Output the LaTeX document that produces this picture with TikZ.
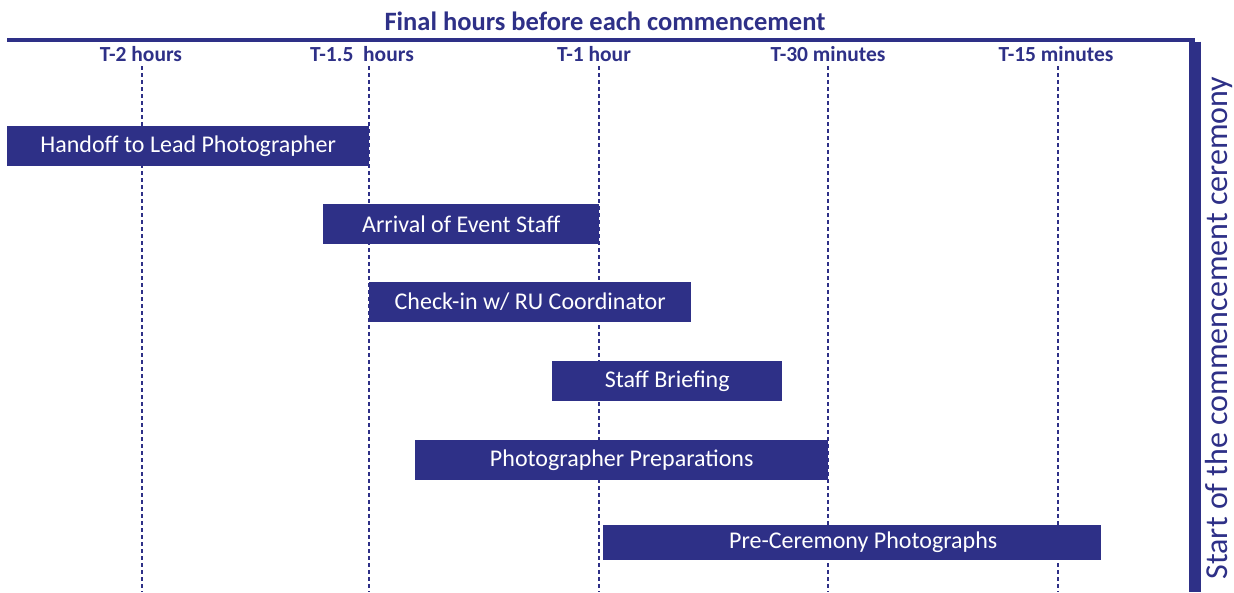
\documentclass[tikz,border=0pt]{standalone}
\usepackage{fontspec}
\setmainfont{Carlito}
\usepackage{tikz}
\usetikzlibrary{positioning}
\definecolor{rublue}{RGB}{46,48,135}

\begin{document}
\begin{tikzpicture}[x=1pt,y=-1pt,
  mark label/.style={text=rublue,font=\fontsize{21.5}{24}\selectfont\bfseries,inner sep=1pt},
  tick/.style={rublue,line width=1.3pt,dash pattern=on 4pt off 3pt},
  task/.style={fill=rublue,text=white,minimum height=40pt,inner sep=0pt,anchor=west,
    font=\fontsize{24}{27}\selectfont}]
  \useasboundingbox (0,0) rectangle (1234,592);
  \node[text=rublue,font=\fontsize{26.5}{29}\selectfont\bfseries] (title) at (605,21) {Final hours before each commencement};
  \coordinate (tl) at (7,39.5);
  \coordinate (tr) at (1195,39.5);
  \coordinate (br) at (1195,592);
  \draw[rublue,line width=4pt] (tl) -- (tr);
  \draw[rublue,line width=12pt] ([yshift=-2pt]tr) -- (br);
  \node[rotate=90,text=rublue,font=\fontsize{32}{34}\selectfont] (start) at (1219,328) {Start of the commencement ceremony};
  % time marks
  \node[mark label] (t2) at (141,54) {T-2 hours};
  \node[mark label] (t15) at (362,54) {T-1.5\ \ hours};
  \node[mark label] (t1) at (594,54) {T-1 hour};
  \node[mark label] (t30) at (828,54) {T-30 minutes};
  \node[mark label] (t15m) at (1056,54) {T-15 minutes};
  \foreach \n/\x in {t2/142,t15/369,t1/599,t30/828,t15m/1058}
    \draw[tick] (\x,66) -- (\x,592);
  % tasks
  \node[task,minimum width=362pt] (hand) at (7,146) {Handoff to Lead Photographer};
  \node[task,minimum width=276pt] (arr) at (323,224) {Arrival of Event Staff};
  \node[task,minimum width=322pt] (check) at (369,302) {Check-in w/ RU Coordinator\hspace{16pt}};
  \node[task,minimum width=230pt] (brief) at (552,381) {Staff Briefing};
  \node[task,minimum width=413pt] (prep) at (415,460) {Photographer Preparations};
  \node[task,minimum width=498pt,minimum height=35pt] (photo) at (603,542) {\hspace{22pt}Pre-Ceremony Photographs};
\end{tikzpicture}
\end{document}
